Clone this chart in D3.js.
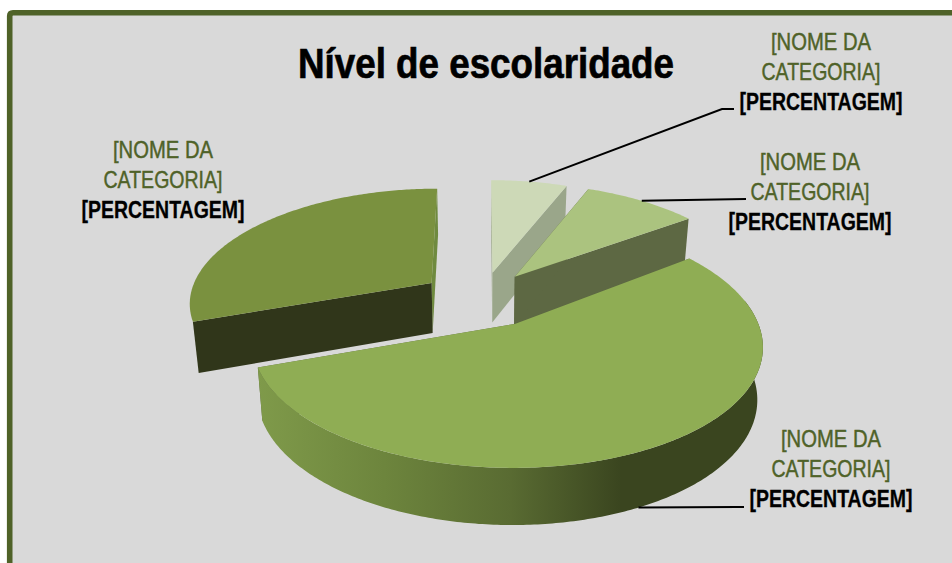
<!DOCTYPE html>
<html>
<head>
<meta charset="utf-8">
<title>Nível de escolaridade</title>
<script src="https://cdn.jsdelivr.net/npm/d3@7"></script>
<style>
    body { margin: 0; background: #fff; }
    svg { display: block; }
    text { font-family: "Liberation Sans Narrow", "Liberation Sans", sans-serif; text-anchor: middle; }
</style>
</head>
<body>
<svg></svg>
<script>
// Chart data, in pie order (clockwise from the top)
const chartTitle = "Nível de escolaridade";
const categoryLabel = ["[NOME DA", "CATEGORIA]"];
const percentLabel = "[PERCENTAGEM]";
const values = [6, 9, 54.5, 30.5];

// Slice colours
const topColors = ["#cdd9b7", "#abc37f", "#8fad54", "#7a913f"];
const startFaceColors = ["#a3ae91", "#5d6843", "#5d6843", "#30361a"];
const endFaceColors = ["#9aa68a", "#5d6843", "#5d6843", "#6f8a3f"];
const wallColors = [null, null, "url(#bigWall)", null];
// How far each slice is pulled out of the pie, in radii
const explode = [0.215, 0.22, 0.27, 0.25];
// Small corrections: rim against tip, then the whole slice
const rimNudge = [0, 2, -8, -1];
const sliceNudgeX = [0, 0, 0, -3];
const sliceNudgeY = [0, 0, 0, 3];

// Label blocks: centre x, first baseline, leader elbow and end (no leader for the last one)
const labelX = [821, 810, 831, 163];
const labelY = [50, 170, 447, 158];
const leaderEnd = [[722, 109, 734], [746, 199, 746], [737, 507, 744], null];
const leaderTurn = [0, 0, 2, 0];

let canvasWidth = 952;
let canvasHeight = 563;
let svg = d3.select("svg").attr("width", canvasWidth).attr("height", canvasHeight);

// Projection of the tilted pie
let centerX = 483, centerY = 296;
let radiusX = 242, radiusY = 113;
let perspectiveX = 0.16, perspectiveY = 0.15;
let depth = 50.5;
let bottomShrink = 0.98;

function project(slice, r, angle, isBottom) {
    let X = slice.ex + r * Math.sin(angle);
    let Y = slice.ey - r * Math.cos(angle);
    let wx = 1 - perspectiveX * Y;
    let wy = 1 - perspectiveY * Y;
    let x = radiusX * X / wx + r * rimNudge[slice.index] + sliceNudgeX[slice.index];
    let y = centerY + radiusY * Y / wy + sliceNudgeY[slice.index];
    if (isBottom) {
        x = x * bottomShrink;
        y = y + depth / Math.pow(wy, 0.6);
    }
    return [centerX + x, y];
}

let line = d3.line().curve(d3.curveLinear);

// Rim of the arc between two angles, sampled finely
function rim(slice, from, to, isBottom) {
    let n = Math.ceil((to - from) * 80);
    return d3.range(n + 1).map(function (i) {
        return project(slice, 1, from + (to - from) * i / n, isBottom);
    });
}

function face(slice, angle) {
    return [project(slice, 0, angle, false), project(slice, 1, angle, false),
        project(slice, 1, angle, true), project(slice, 0, angle, true)];
}

// Background and the frame, which runs off the right and bottom of the picture
svg.append("rect").attr("width", canvasWidth).attr("height", canvasHeight).attr("fill", "#fff");
svg.append("rect").attr("x", 9).attr("y", 12).attr("width", canvasWidth - 9).attr("height", canvasHeight - 12).attr("fill", "#d9d9d9");
svg.append("path")
    .attr("d", "M9.7 " + canvasHeight + "V16Q9.7 12.8 13 12.8H" + canvasWidth)
    .attr("fill", "none").attr("stroke", "#4f6228").attr("stroke-width", 5.6);

// Gradient on the outer wall of the big slice
let gradient = svg.append("defs").append("linearGradient").attr("id", "bigWall");
[[0, "#7f9a4a"], [0.25, "#6d853d"], [0.5, "#596b32"], [0.72, "#3a451f"], [1, "#3a451f"]].forEach(function (s) {
    gradient.append("stop").attr("offset", s[0]).attr("stop-color", s[1]);
});

let slices = d3.pie().sort(null).value(function (d) { return d; })(values).map(function (d, i) {
    let mid = (d.startAngle + d.endAngle) / 2;
    return {
        startAngle: d.startAngle, endAngle: d.endAngle, mid: mid, index: i,
        ex: explode[i] * Math.sin(mid),
        ey: -explode[i] * Math.cos(mid)
    };
});

// Back slices first so the front ones cover them
let drawOrder = [0, 1, 3, 2];
drawOrder.forEach(function (i) {
    let s = slices[i];
    let g = svg.append("g");
    g.append("path").attr("d", line(face(s, s.endAngle)) + "Z").attr("fill", endFaceColors[i]);
    g.append("path").attr("d", line(face(s, s.startAngle)) + "Z").attr("fill", startFaceColors[i]);
    if (wallColors[i]) {
        // Only the part of the outer wall that looks towards the viewer
        let from = Math.max(s.startAngle, Math.PI / 2 - 0.2);
        g.append("path")
            .attr("d", line(rim(s, from, s.endAngle, false).concat(rim(s, from, s.endAngle, true).reverse())) + "Z")
            .attr("fill", wallColors[i]);
    }
    g.append("path")
        .attr("d", line([project(s, 0, 0, false)].concat(rim(s, s.startAngle, s.endAngle, false))) + "Z")
        .attr("fill", topColors[i]);
});

// Leader lines, starting on the slice edge. The big slice is reached on its lower rim
slices.forEach(function (s, i) {
    if (!leaderEnd[i]) return;
    let from = project(s, 1, s.mid + leaderTurn[i] * Math.PI / 180, i === 2);
    let end = leaderEnd[i];
    svg.append("path")
        .attr("d", line([from, [end[0], end[1]], [end[2], end[1]]]))
        .attr("fill", "none").attr("stroke", "#000").attr("stroke-width", 2);
});

// Title
svg.append("text").attr("x", 486).attr("y", 78)
    .attr("font-size", 42).attr("font-weight", "bold")
    .attr("stroke", "#000").attr("stroke-width", 0.7)
    .attr("textLength", 376).attr("lengthAdjust", "spacingAndGlyphs")
    .text(chartTitle);

// Data labels
values.forEach(function (v, i) {
    let x = labelX[i], y = labelY[i];
    svg.append("text").attr("x", x).attr("y", y).attr("font-size", 24).attr("fill", "#4f6228")
        .attr("stroke", "#4f6228").attr("stroke-width", 0.45)
        .attr("textLength", 100).attr("lengthAdjust", "spacingAndGlyphs").text(categoryLabel[0]);
    svg.append("text").attr("x", x).attr("y", y + 30).attr("font-size", 24).attr("fill", "#4f6228")
        .attr("stroke", "#4f6228").attr("stroke-width", 0.45)
        .attr("textLength", 119).attr("lengthAdjust", "spacingAndGlyphs").text(categoryLabel[1]);
    svg.append("text").attr("x", x).attr("y", y + 60).attr("font-size", 24).attr("font-weight", "bold").attr("fill", "#000")
        .attr("stroke", "#000").attr("stroke-width", 0.3)
        .attr("textLength", 163).attr("lengthAdjust", "spacingAndGlyphs").text(percentLabel);
});
</script>
</body>
</html>
